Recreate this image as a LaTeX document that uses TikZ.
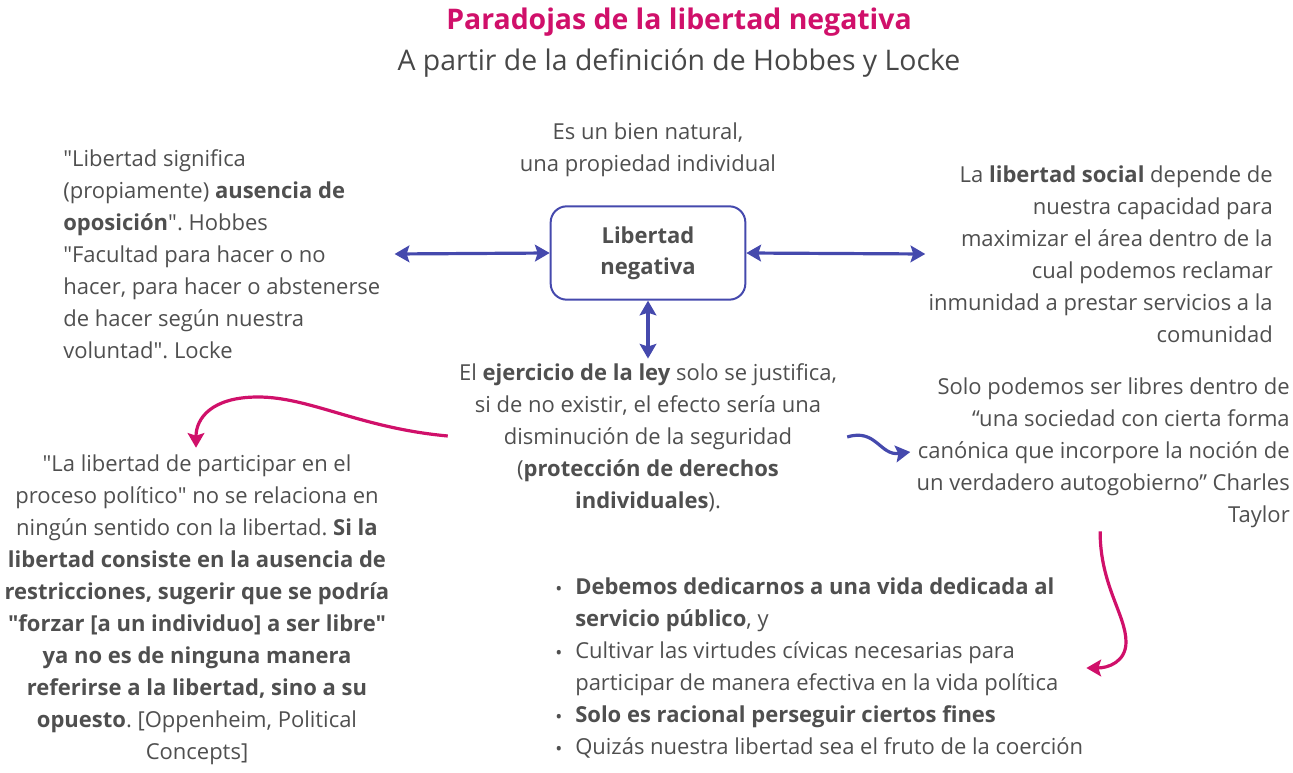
\documentclass[tikz,border=0pt]{standalone}
\usepackage{fontspec}
\setmainfont{Open Sans}[Ligatures=TeXOff]
\usepackage{xcolor}
\usetikzlibrary{arrows.meta,calc,positioning}
\definecolor{inkgray}{HTML}{4F4F4F}
\definecolor{titlepink}{HTML}{D0106A}
\definecolor{linkblue}{HTML}{4549AD}
\newcommand{\itemdot}{\makebox[15pt][l]{\raisebox{-0.5pt}{\fontsize{14}{14}\selectfont\textbullet}}}
\newcommand{\itemgap}{\hspace*{15pt}}
\frenchspacing

\begin{document}
\begin{tikzpicture}[
  x=0.75pt, y=-0.75pt,
  txt/.style={inner sep=0pt, text=inkgray, font=\fontsize{16.5}{24}\selectfont},
  central/.style={draw=linkblue, line width=1.5pt, rounded corners=12pt, minimum width=146pt, minimum height=70pt, align=center, text=inkgray, font=\bfseries\fontsize{16.5}{23.5}\selectfont},
  bluelink/.style={linkblue, line width=2.4pt, {Stealth[length=11pt,width=12.5pt,inset=2pt]}-{Stealth[length=11pt,width=12.5pt,inset=2pt]}},
  bluecurve/.style={linkblue, line width=2.4pt, -{Stealth[length=11pt,width=12.5pt,inset=2pt]}},
  pinkcurve/.style={titlepink, line width=2.4pt, -{Stealth[length=11pt,width=12.5pt,inset=2pt]}}
]
\useasboundingbox (0,0) rectangle (1293,773);

% titles
\node[inner sep=0pt, text=titlepink, font=\bfseries\fontsize{21.3}{24}\selectfont] (title) at (679,22) {Paradojas de la libertad negativa};
\node[inner sep=0pt, text=inkgray!90!black, font=\fontsize{21.3}{24}\selectfont] (subtitle) at (679,63) {A partir de la definición de Hobbes y Locke};

% centre
\node[central] (libneg) at (648,253) {Libertad\\negativa};
\node[txt, align=center] (bien) at (648,150) {Es un bien natural,\\una propiedad individual};

% left / right / below
\node[txt, align=left, anchor=west] (hobbes) at (63,254) {"Libertad significa\\(propiamente) \textbf{ausencia de}\\\textbf{oposición}". Hobbes\\"Facultad para hacer o no\\hacer, para hacer o abstenerse\\de hacer según nuestra\\voluntad". Locke};
\node[txt, align=right, anchor=east] (social) at (1273,254) {La \textbf{libertad social} depende de\\nuestra capacidad para\\maximizar el área dentro de la\\cual podemos reclamar\\inmunidad a prestar servicios a la\\comunidad};
\node[txt, align=center] (ley) at (648,438) {El \textbf{ejercicio de la ley} solo se justifica,\\si de no existir, el efecto sería una\\disminución de la seguridad\\(\textbf{protección de derechos}\\\textbf{individuales}).};

% lower row
\node[txt, align=right, anchor=east] (taylor) at (1290,453) {Solo podemos ser libres dentro de\\“una sociedad con cierta forma\\canónica que incorpore la noción de\\un verdadero autogobierno” Charles\\Taylor};
\node[txt, align=center] (oppenheim) at (197,610) {"La libertad de participar en el\\proceso político" no se relaciona en\\ningún sentido con la libertad. \textbf{Si la}\\\textbf{libertad consiste en la ausencia de}\\\textbf{restricciones, sugerir que se podría}\\\textbf{"forzar [a un individuo] a ser libre"}\\\textbf{ya no es de ninguna manera}\\\textbf{referirse a la libertad, sino a su}\\\textbf{opuesto}. [Oppenheim, Political\\Concepts]};
\node[txt, align=left, anchor=west] (fines) at (555,668) {\itemdot\textbf{Debemos dedicarnos a una vida dedicada al}\\\itemgap\textbf{servicio público}, y\\\itemdot Cultivar las virtudes cívicas necesarias para\\\itemgap participar de manera efectiva en la vida política\\\itemdot\textbf{Solo es racional perseguir ciertos fines}\\\itemdot Quizás nuestra libertad sea el fruto de la coerción};

% connectors
\draw[bluelink] ($(hobbes.east)+(14,0)$) -- (libneg.west);
\draw[bluelink] (libneg.east) -- ($(social.west)+(-3,0)$);
\draw[bluelink] (libneg.south) -- ($(ley.north)+(0,-5)$);
\draw[pinkcurve] ($(ley.west)+(-11,-2)$) .. controls (360,428) and (310,397) .. (258,397) .. controls (212,397) and (196,418) .. ($(oppenheim.north)+(-1,-7)$);
\draw[bluecurve] ($(ley.east)+(10,-1)$) .. controls (876,428) and (880,456) .. ($(taylor.west)+(-6,-1)$);
\draw[pinkcurve] ($(taylor.south)+(-3,3)$) .. controls (1100,585) and (1126,615) .. (1126,642) .. controls (1126,662) and (1108,668) .. ($(fines.east)+(3,0)$);
\end{tikzpicture}
\end{document}
